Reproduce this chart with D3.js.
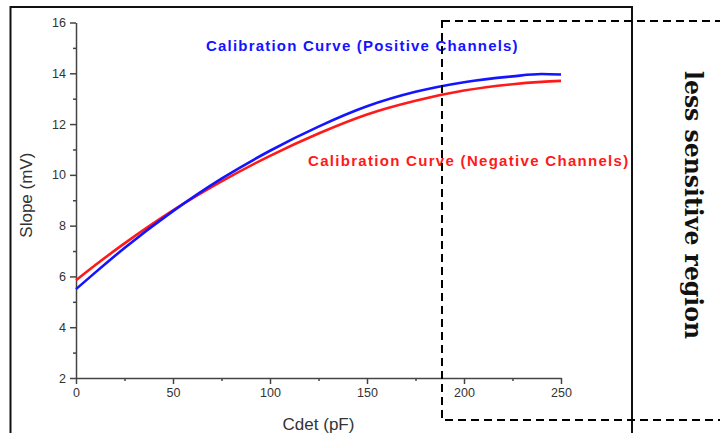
<!DOCTYPE html>
<html>
<head>
<meta charset="utf-8">
<script src="https://cdn.jsdelivr.net/npm/d3@7"></script>
<style>
  html, body { margin: 0; padding: 0; background: #fff; }
  svg { display: block; }
</style>
</head>
<body>
<div id="wrapper"></div>
<script>
// data
const cdet = [0, 10, 25, 50, 75, 100, 125, 150, 175, 200, 225, 240, 250];
const slopePositive = [5.5, 6.16, 7.12, 8.57, 9.85, 10.95, 11.9, 12.7, 13.27, 13.65, 13.88, 13.97, 13.95];
const slopeNegative = [5.85, 6.45, 7.3, 8.6, 9.74, 10.75, 11.63, 12.38, 12.92, 13.32, 13.57, 13.66, 13.7];
const xTicks = [0, 50, 100, 150, 200, 250];
const yTicks = [2, 4, 6, 8, 10, 12, 14, 16];

const positive = cdet.map((x, i) => ({ x, y: slopePositive[i] }));
const negative = cdet.map((x, i) => ({ x, y: slopeNegative[i] }));

const width = 720, height = 433;
const margin = { top: 22.5, right: 159, bottom: 55, left: 76 };
const boundedWidth = width - margin.left - margin.right;
const boundedHeight = height - margin.top - margin.bottom;

const svg = d3.select("#wrapper").append("svg")
    .attr("width", width)
    .attr("height", height);

// outer frame of the figure
svg.append("rect")
    .attr("x", 10.5).attr("y", 7)
    .attr("width", 621.5).attr("height", 440)
    .attr("fill", "none")
    .attr("stroke", "#111")
    .attr("stroke-width", 2);

const bounds = svg.append("g")
    .attr("transform", `translate(${margin.left},${margin.top})`);

const xScale = d3.scaleLinear().domain([0, 250]).range([0, boundedWidth]);
const yScale = d3.scaleLinear().domain([2, 16]).range([boundedHeight, 0]);

// axes
const xAxis = bounds.append("g")
    .attr("transform", `translate(0,${boundedHeight})`)
    .call(d3.axisBottom(xScale).tickValues(xTicks).tickSize(6).tickSizeOuter(0).tickPadding(4));
const xMinor = bounds.append("g")
    .attr("transform", `translate(0,${boundedHeight})`)
    .call(d3.axisBottom(xScale).tickValues([25, 75, 125, 175, 225]).tickSize(3).tickFormat(""));
xMinor.select(".domain").remove();

const yAxis = bounds.append("g")
    .call(d3.axisLeft(yScale).tickValues(yTicks).tickSize(6).tickSizeOuter(0).tickPadding(4));
const yMinor = bounds.append("g")
    .call(d3.axisLeft(yScale).tickValues([3, 5, 7, 9, 11, 13, 15]).tickSize(3).tickFormat(""));
yMinor.select(".domain").remove();

bounds.selectAll(".domain, .tick line")
    .attr("stroke", "#444")
    .attr("stroke-width", 1.5);
bounds.selectAll(".tick text")
    .attr("fill", "#333")
    .style("font-family", "Liberation Sans, Arial, sans-serif")
    .style("font-size", "12.5px");

xAxis.append("text")
    .attr("x", xScale(125))
    .attr("y", 52)
    .attr("fill", "#333")
    .attr("text-anchor", "middle")
    .style("font-family", "Liberation Sans, Arial, sans-serif")
    .style("font-size", "17px")
    .text("Cdet (pF)");

yAxis.append("text")
    .attr("transform", "rotate(-90)")
    .attr("x", -yScale(9.2))
    .attr("y", -44)
    .attr("fill", "#333")
    .attr("text-anchor", "middle")
    .style("font-family", "Liberation Sans, Arial, sans-serif")
    .style("font-size", "17px")
    .text("Slope (mV)");

// curves
const line = d3.line()
    .x(d => xScale(d.x))
    .y(d => yScale(d.y))
    .curve(d3.curveMonotoneX);

bounds.append("path")
    .datum(negative)
    .attr("d", line)
    .attr("fill", "none")
    .attr("stroke", "#ff1a1a")
    .attr("stroke-width", 2.6);

bounds.append("path")
    .datum(positive)
    .attr("d", line)
    .attr("fill", "none")
    .attr("stroke", "#1414ff")
    .attr("stroke-width", 2.6);

// curve labels
svg.append("text")
    .attr("x", 206).attr("y", 51)
    .attr("fill", "#1414ff")
    .style("font-family", "Liberation Sans, Arial, sans-serif")
    .style("font-weight", "bold")
    .style("font-size", "15px")
    .style("letter-spacing", "1.2px")
    .text("Calibration Curve (Positive Channels)");

svg.append("text")
    .attr("x", 308).attr("y", 166)
    .attr("fill", "#ff1a1a")
    .style("font-family", "Liberation Sans, Arial, sans-serif")
    .style("font-weight", "bold")
    .style("font-size", "15px")
    .style("letter-spacing", "1.3px")
    .text("Calibration Curve (Negative Channels)");

// dashed annotation box
svg.append("rect")
    .attr("x", 442).attr("y", 21)
    .attr("width", 300).attr("height", 399)
    .attr("fill", "none")
    .attr("stroke", "#000")
    .attr("stroke-width", 2)
    .attr("stroke-dasharray", "8,5");

svg.append("text")
    .attr("transform", "translate(685,71) rotate(90)")
    .attr("fill", "#111")
    .style("font-family", "DejaVu Serif, serif")
    .style("font-weight", "bold")
    .style("font-size", "23.5px")
    .text("less sensitive region");
</script>
</body>
</html>
